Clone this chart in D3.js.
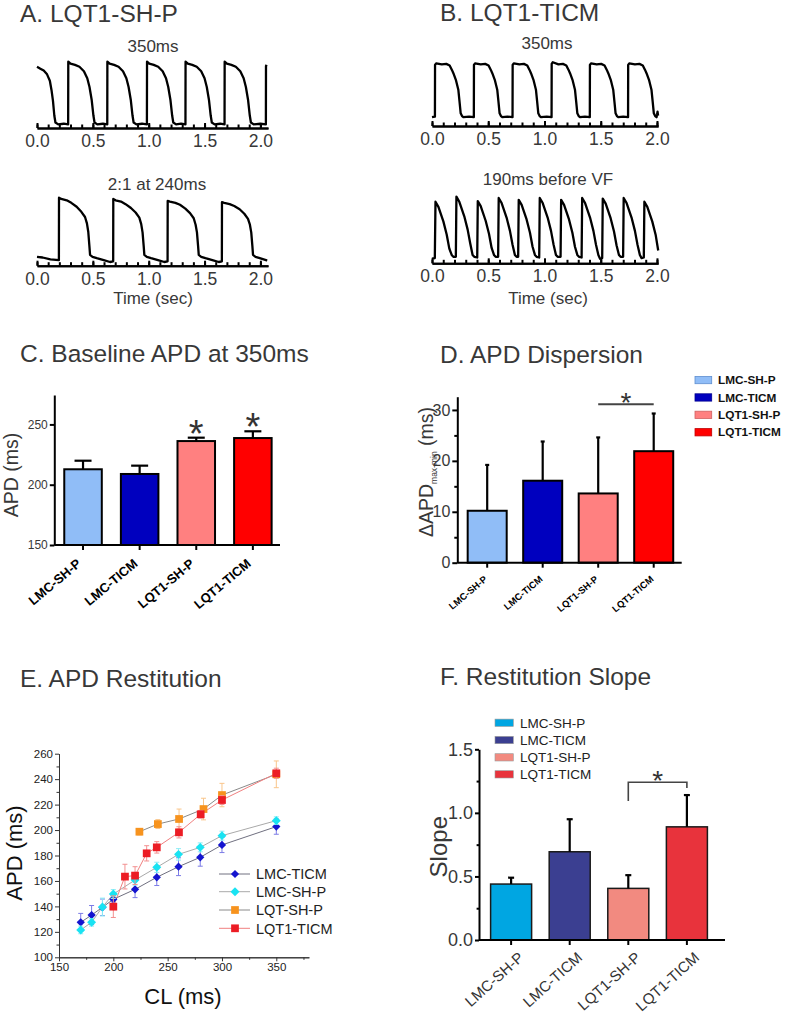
<!DOCTYPE html>
<html><head><meta charset="utf-8">
<script src="https://cdn.jsdelivr.net/npm/d3@7"></script>
<style>
body{margin:0;background:#fff;}
svg{display:block;font-family:"Liberation Sans",Arial,Helvetica,sans-serif;}
</style></head><body>
<svg id="fig" width="786" height="1020"></svg>
<script>
// ---------------- DATA ----------------
// Optical action potential traces: [time (s), normalised amplitude]
const traceA1 = [[0,0.92],[0.03,0.89],[0.06,0.86],[0.09,0.80],[0.115,0.70],[0.13,0.55],[0.143,0.38],[0.155,0.15],[0.165,0.04],[0.19,0.01],[0.24,0.02],[0.279,0.01],
[0.28,1.0],[0.30,0.97],[0.34,0.95],[0.38,0.92],[0.42,0.85],[0.45,0.74],[0.47,0.60],[0.49,0.39],[0.505,0.15],[0.515,0.04],[0.54,0.01],[0.59,0.02],[0.629,0.01],
[0.63,1.0],[0.65,0.97],[0.69,0.95],[0.73,0.92],[0.77,0.85],[0.80,0.74],[0.82,0.60],[0.84,0.39],[0.855,0.15],[0.865,0.04],[0.89,0.01],[0.94,0.02],[0.984,0.01],
[0.985,1.0],[1.005,0.97],[1.045,0.95],[1.085,0.92],[1.125,0.85],[1.155,0.74],[1.175,0.60],[1.195,0.39],[1.21,0.15],[1.22,0.04],[1.245,0.01],[1.29,0.02],[1.329,0.01],
[1.33,1.0],[1.35,0.97],[1.39,0.95],[1.43,0.92],[1.47,0.85],[1.50,0.74],[1.52,0.60],[1.54,0.39],[1.555,0.15],[1.565,0.04],[1.59,0.01],[1.64,0.02],[1.679,0.01],
[1.68,1.0],[1.70,0.97],[1.74,0.95],[1.78,0.92],[1.82,0.85],[1.85,0.74],[1.87,0.60],[1.89,0.39],[1.905,0.15],[1.915,0.04],[1.94,0.01],[2.0,0.02],[2.049,0.01],
[2.05,0.93],[2.056,0.95]];

const traceA2 = [[0,0.08],[0.05,0.07],[0.12,0.04],[0.196,0.03],
[0.197,1.0],[0.217,0.98],[0.266,0.96],[0.307,0.92],[0.355,0.86],[0.397,0.78],[0.43,0.70],[0.447,0.60],[0.459,0.47],[0.469,0.25],[0.475,0.11],[0.497,0.08],[0.535,0.06],[0.597,0.03],[0.654,0.0],[0.682,0.01],
[0.683,0.98],[0.703,0.96],[0.752,0.94],[0.793,0.90],[0.841,0.84],[0.883,0.77],[0.916,0.69],[0.933,0.59],[0.945,0.46],[0.955,0.25],[0.961,0.11],[0.983,0.08],[1.021,0.06],[1.083,0.03],[1.14,0.0],[1.169,0.01],
[1.17,0.95],[1.19,0.94],[1.239,0.92],[1.28,0.89],[1.328,0.83],[1.37,0.76],[1.403,0.68],[1.42,0.58],[1.432,0.46],[1.442,0.25],[1.448,0.11],[1.47,0.08],[1.508,0.06],[1.57,0.03],[1.627,0.0],[1.655,0.01],
[1.656,0.93],[1.676,0.92],[1.725,0.90],[1.766,0.87],[1.814,0.82],[1.856,0.75],[1.889,0.67],[1.906,0.58],[1.918,0.46],[1.928,0.25],[1.934,0.11],[1.956,0.08],[1.994,0.06],[2.05,0.03],[2.06,0.02]];

const traceB1 = [[0,0.02],[0.026,0.03],
[0.027,0.97],[0.037,1.0],[0.087,0.98],[0.127,0.99],[0.157,0.96],[0.177,0.88],[0.19,0.82],[0.212,0.70],[0.234,0.52],[0.245,0.30],[0.255,0.09],[0.267,0.04],[0.279,0.02],[0.33,0.03],[0.372,0.02],
[0.373,0.97],[0.383,1.0],[0.433,0.98],[0.473,0.99],[0.503,0.96],[0.523,0.88],[0.536,0.82],[0.558,0.70],[0.58,0.52],[0.591,0.30],[0.601,0.09],[0.613,0.04],[0.625,0.02],[0.67,0.03],[0.716,0.02],
[0.717,0.97],[0.727,1.0],[0.777,0.98],[0.817,0.99],[0.847,0.96],[0.867,0.88],[0.88,0.82],[0.902,0.70],[0.924,0.52],[0.935,0.30],[0.945,0.09],[0.957,0.04],[0.969,0.02],[1.02,0.03],[1.063,0.02],
[1.064,0.99],[1.074,1.02],[1.124,0.98],[1.164,0.99],[1.194,0.96],[1.214,0.88],[1.227,0.82],[1.249,0.70],[1.271,0.52],[1.282,0.30],[1.292,0.09],[1.304,0.04],[1.316,0.02],[1.36,0.03],[1.403,0.02],
[1.404,0.97],[1.414,1.0],[1.464,0.98],[1.504,0.99],[1.534,0.96],[1.554,0.88],[1.567,0.82],[1.589,0.70],[1.611,0.52],[1.622,0.30],[1.632,0.09],[1.644,0.04],[1.656,0.02],[1.70,0.03],[1.743,0.02],
[1.744,0.97],[1.754,1.0],[1.804,0.98],[1.844,0.99],[1.874,0.96],[1.894,0.88],[1.907,0.82],[1.929,0.70],[1.951,0.52],[1.962,0.30],[1.972,0.09],[1.984,0.04],[1.996,0.02],[2.0,0.06],[2.005,0.12],[2.01,0.05]];

const traceB2 = [[0,0.02],[0.025,0.03],[0.031,0.92],[0.057,0.84],[0.101,0.61],[0.131,0.40],[0.154,0.18],[0.175,0.08],[0.19,0.05],[0.212,0.05],
[0.217,1.0],[0.243,0.92],[0.287,0.69],[0.317,0.48],[0.340,0.26],[0.361,0.08],[0.376,0.05],[0.402,0.04],
[0.407,0.93],[0.433,0.85],[0.477,0.62],[0.507,0.41],[0.530,0.19],[0.551,0.08],[0.566,0.05],[0.588,0.05],
[0.593,0.98],[0.619,0.90],[0.663,0.67],[0.693,0.46],[0.716,0.24],[0.737,0.08],[0.752,0.05],[0.766,0.05],
[0.771,0.95],[0.797,0.87],[0.841,0.64],[0.871,0.43],[0.894,0.21],[0.915,0.08],[0.93,0.05],[0.953,0.04],
[0.958,0.98],[0.984,0.90],[1.028,0.67],[1.058,0.46],[1.081,0.24],[1.102,0.08],[1.117,0.05],[1.143,0.05],
[1.148,0.95],[1.174,0.87],[1.218,0.64],[1.248,0.43],[1.271,0.21],[1.292,0.08],[1.307,0.05],[1.33,0.04],
[1.335,0.98],[1.361,0.90],[1.405,0.67],[1.435,0.46],[1.458,0.24],[1.479,0.08],[1.494,0.02],[1.513,0.03],
[1.518,0.97],[1.544,0.89],[1.588,0.66],[1.618,0.45],[1.641,0.23],[1.662,0.08],[1.677,0.05],[1.699,0.05],
[1.704,0.98],[1.73,0.90],[1.774,0.67],[1.804,0.46],[1.827,0.24],[1.848,0.08],[1.863,0.03],[1.883,0.04],
[1.888,0.92],[1.914,0.84],[1.958,0.61],[1.988,0.40],[2.011,0.15]];

const traceMajorTicks = [0, 0.5, 1.0, 1.5, 2.0];
const traceMinorTicks = [0,0.1,0.2,0.3,0.4,0.5,0.6,0.7,0.8,0.9,1.0,1.1,1.2,1.3,1.4,1.5,1.6,1.7,1.8,1.9,2.0];

// Bar charts
const groups = ["LMC-SH-P","LMC-TICM","LQT1-SH-P","LQT1-TICM"];
const apdBaseline = [212.8, 208.9, 236.2, 238.7];
const apdBaselineErr = [7.1, 6.9, 2.8, 5.6];
const apdTicks = [150, 200, 250];

const apdDispersion = [10.2, 16.1, 13.6, 21.9];
const apdDispersionErr = [9.0, 7.7, 11.0, 7.4];
const dispMajorTicks = [0, 10, 20, 30];
const dispMinorTicks = [5, 15, 25];

const slope = [0.44, 0.694, 0.406, 0.89];
const slopeErr = [0.05, 0.256, 0.104, 0.25];
const slopeMajorTicks = [0, 0.5, 1.0, 1.5];
const slopeMinorTicks = [0.25, 0.75, 1.25];

// Restitution curves
const clLMC = [170,180,190,200,220,240,260,280,300,350];
const apdLMC_TICM = [127.5,133.2,139.3,145.6,153.4,162.9,171.2,178.6,188.3,202.7];
const errLMC_TICM = [7,7.5,6.5,3,6.5,6.5,7,7,6,6];
const apdLMC_SHP = [121.5,127.5,139.5,149.7,160.7,170.7,180.9,186.4,195.6,207.4];
const errLMC_SHP = [3,3,7,3.5,4,4,4.5,3.5,3.5,3];
const clLQT_SHP = [224,241,260.5,283,300,350];
const apdLQT_SHP = [198.7,204.7,208.7,216.5,227.5,243.8];
const errLQT_SHP = [2.5,3.5,7.8,8.5,9.2,10.5];
const clLQT1_TICM = [200,210.7,220,230.7,240,260.4,280.4,300,350];
const apdLQT1_TICM = [139.8,163.4,164.2,181.7,186.4,198.2,212.4,223.6,244.6];
const errLQT1_TICM = [8.5,9.7,7,6,4.5,4.4,3,3.5,4];
const clMajorTicks = [150,200,250,300,350];
const clMinorTicks = [175,225,275,325,375];
const restMajorTicks = [100,120,140,160,180,200,220,240,260];
const restMinorTicks = [110,130,150,170,190,210,230,250];

// ---------------- DRAWING ----------------
const svg = d3.select("#fig");
const TXT = "#383838";

const titles = [
  {t:"A. LQT1-SH-P", x:20, y:22},
  {t:"B. LQT1-TICM", x:440, y:21},
  {t:"C. Baseline APD at 350ms", x:20, y:362},
  {t:"D. APD Dispersion", x:440, y:363},
  {t:"E. APD Restitution", x:20, y:687},
  {t:"F. Restitution Slope", x:440, y:685}];
svg.selectAll("text.title").data(titles).enter().append("text")
  .attr("class","title").attr("x",d=>d.x).attr("y",d=>d.y)
  .attr("font-size",24.5).attr("fill",TXT).text(d=>d.t);

function styleAxis(g, w){
  g.select(".domain").attr("stroke","#000").attr("stroke-width",w);
  g.selectAll(".tick line").attr("stroke","#000").attr("stroke-width",w);
}

function tracePanel(data, cfg){
  const x = d3.scaleLinear().domain(cfg.tdom).range(cfg.xr);
  const y = d3.scaleLinear().domain([0,1]).range([cfg.yBase, cfg.yTop]);
  const g = svg.append("g");
  const minor = g.append("g").attr("transform",`translate(0,${cfg.axisY})`)
    .call(d3.axisBottom(x).tickValues(traceMinorTicks).tickSize(-3.5).tickSizeOuter(0).tickFormat(""));
  styleAxis(minor, 2);
  const major = g.append("g").attr("transform",`translate(0,${cfg.axisY})`)
    .call(d3.axisBottom(x).tickValues(traceMajorTicks).tickSize(-5).tickSizeOuter(0).tickPadding(6.5).tickFormat(d3.format(".1f")));
  styleAxis(major, 2);
  major.selectAll("text").attr("font-size",17.5).attr("fill",TXT).attr("font-family","Liberation Sans, Arial, sans-serif");
  g.append("path").datum(data)
    .attr("d", d3.line().x(d=>x(d[0])).y(d=>y(d[1])))
    .attr("fill","none").attr("stroke","#000").attr("stroke-width",2.3).attr("stroke-linejoin","round");
  g.append("text").attr("x",cfg.labelX).attr("y",cfg.labelY).attr("text-anchor","middle")
    .attr("font-size",17).attr("fill",TXT).text(cfg.label);
}
tracePanel(traceA1,{tdom:[0,2.068],xr:[37,268],axisY:128,yTop:61.7,yBase:125,label:"350ms",labelX:153,labelY:52});
tracePanel(traceA2,{tdom:[0,2.068],xr:[37,268],axisY:265.7,yTop:197.7,yBase:262,label:"2:1 at 240ms",labelX:157,labelY:190});
tracePanel(traceB1,{tdom:[0,2.01],xr:[432,658.1],axisY:126,yTop:63.3,yBase:118.3,label:"350ms",labelX:547,labelY:48.5});
tracePanel(traceB2,{tdom:[0,2.01],xr:[432,658.1],axisY:263.3,yTop:196.7,yBase:260,label:"190ms before VF",labelX:548,labelY:184.5});
svg.append("text").attr("x",153).attr("y",304).attr("text-anchor","middle").attr("font-size",17).attr("fill",TXT).text("Time (sec)");
svg.append("text").attr("x",548).attr("y",304).attr("text-anchor","middle").attr("font-size",17).attr("fill",TXT).text("Time (sec)");

// ---- generic bar panel ----
function barPanel(cfg){
  const g = svg.append("g");
  const x = d3.scaleBand().domain(groups).range(cfg.bandRange).paddingInner(cfg.pi).paddingOuter(cfg.po);
  const y = d3.scaleLinear().domain(cfg.ydom).range([cfg.y0, cfg.yTopPx]);
  const ya = g.append("g").attr("transform",`translate(${cfg.x0},0)`)
    .call(d3.axisLeft(y).tickValues(cfg.yticks).tickSize(cfg.tickLen).tickSizeOuter(0).tickPadding(cfg.tickPad).tickFormat(cfg.fmt));
  styleAxis(ya, cfg.axisW);
  ya.selectAll("text").attr("font-size",cfg.tickFont).attr("fill",TXT).attr("font-family","Liberation Sans, Arial, sans-serif");
  if (cfg.yminor){
    const ym = g.append("g").attr("transform",`translate(${cfg.x0},0)`)
      .call(d3.axisLeft(y).tickValues(cfg.yminor).tickSize(cfg.tickLen*0.6).tickSizeOuter(0).tickFormat(""));
    styleAxis(ym, cfg.axisW);
    ym.select(".domain").remove();
  }
  g.selectAll("rect.bar").data(groups).enter().append("rect")
    .attr("x",d=>x(d)).attr("y",(d,i)=>y(cfg.values[i]))
    .attr("width",x.bandwidth()).attr("height",(d,i)=>cfg.y0-y(cfg.values[i]))
    .attr("fill",(d,i)=>cfg.colors[i]).attr("stroke",cfg.barStroke).attr("stroke-width",cfg.barW);
  groups.forEach((d,i)=>{
    const cx = x(d)+x.bandwidth()/2;
    g.append("line").attr("x1",cx).attr("x2",cx).attr("y1",y(cfg.values[i])).attr("y2",y(cfg.values[i]+cfg.errs[i]))
      .attr("stroke","#000").attr("stroke-width",cfg.errW);
    g.append("line").attr("x1",cx-cfg.cap).attr("x2",cx+cfg.cap).attr("y1",y(cfg.values[i]+cfg.errs[i])).attr("y2",y(cfg.values[i]+cfg.errs[i]))
      .attr("stroke","#000").attr("stroke-width",cfg.errW);
  });
  g.append("line").attr("x1",cfg.x0).attr("x2",cfg.xEnd).attr("y1",cfg.y0).attr("y2",cfg.y0).attr("stroke","#000").attr("stroke-width",cfg.axisW);
  groups.forEach(d=>{
    const cx = x(d)+x.bandwidth()/2;
    g.append("line").attr("x1",cx).attr("x2",cx).attr("y1",cfg.y0).attr("y2",cfg.y0+cfg.xTickLen).attr("stroke","#000").attr("stroke-width",cfg.axisW);
    g.append("text").attr("transform",`translate(${cx+cfg.lblDx},${cfg.y0+cfg.lblDy}) rotate(${cfg.lblRot})`)
      .attr("text-anchor","end").attr("dy","0.35em").attr("font-size",cfg.lblFont).attr("font-weight",cfg.lblWeight)
      .attr("fill",cfg.lblColor).text(d);
  });
  return {x,y,g};
}

// ---- Panel C ----
const pC = barPanel({bandRange:[54.3,281.6],pi:0.337,po:0.176,ydom:[150,274.4],y0:545,yTopPx:395,x0:54.3,xEnd:280,
  yticks:apdTicks,tickLen:4.5,tickPad:2,fmt:d3.format("d"),tickFont:12,axisW:2,values:apdBaseline,errs:apdBaselineErr,
  colors:["#90bdf7","#0000bf","#ff8080","#ff0000"],barStroke:"#000",barW:2,errW:2.2,cap:8.5,xTickLen:5,
  lblDx:-4,lblDy:16.5,lblRot:-40,lblFont:13,lblWeight:"bold",lblColor:"#000"});
[2,3].forEach(i=>{
  const cx = pC.x(groups[i])+pC.x.bandwidth()/2;
  const cy = pC.y(apdBaseline[i]+apdBaselineErr[i]) - 12;
  pC.g.append("text").attr("x",cx).attr("y",cy+21).attr("text-anchor","middle")
    .attr("font-size",38).attr("fill","#333").text("*");
});
svg.append("text").attr("transform","translate(18,475) rotate(-90)").attr("text-anchor","middle")
  .attr("font-size",19.5).attr("fill",TXT).text("APD (ms)");

// ---- Panel D ----
const pD = barPanel({bandRange:[457.3,683.6],pi:0.297,po:0.187,ydom:[0,32.6],y0:562.7,yTopPx:396.7,x0:457.3,xEnd:681.7,
  yticks:dispMajorTicks,yminor:dispMinorTicks,tickLen:5,tickPad:2,fmt:d3.format("d"),tickFont:16,axisW:2,values:apdDispersion,errs:apdDispersionErr,
  colors:["#90bdf7","#0000bf","#ff8080","#ff0000"],barStroke:"#000",barW:2,errW:2.2,cap:2,xTickLen:5,
  lblDx:-1.5,lblDy:15,lblRot:-40,lblFont:9.5,lblWeight:"bold",lblColor:"#000"});
{
  const c3 = pD.x(groups[2])+pD.x.bandwidth()/2, c4 = pD.x(groups[3])+pD.x.bandwidth()/2;
  pD.g.append("line").attr("x1",c3).attr("x2",c4).attr("y1",404.3).attr("y2",404.3).attr("stroke","#444").attr("stroke-width",2);
  pD.g.append("text").attr("x",(c3+c4)/2).attr("y",411.5).attr("text-anchor","middle").attr("font-size",28).attr("fill","#333").text("*");
}
{
  const t = svg.append("text").attr("transform","translate(433,472) rotate(-90)").attr("text-anchor","middle")
    .attr("font-size",19.5).attr("fill",TXT);
  t.append("tspan").text("\u0394APD");
  t.append("tspan").attr("font-size",8.5).attr("dy",4).text("max-min");
  t.append("tspan").attr("dy",-4).text(" (ms)");
}
const legD = svg.append("g");
groups.forEach((d,i)=>{
  const yy = 380 + i*17.4;
  legD.append("rect").attr("x",695).attr("y",yy-3.6).attr("width",16.7).attr("height",7.3)
    .attr("fill",["#90bdf7","#0000bf","#ff8080","#ff0000"][i]).attr("stroke",["#5f8fd0","#00008f","#d06060","#c00000"][i]).attr("stroke-width",0.8);
  legD.append("text").attr("x",718).attr("y",yy).attr("dy","0.36em").attr("font-size",11.8).attr("font-weight","bold").attr("fill","#111").text(d);
});

// ---- Panel E ----
{
  const g = svg.append("g");
  const x = d3.scaleLinear().domain([150,380]).range([59,308.9]);
  const y = d3.scaleLinear().domain([100,260]).range([957.3,753.7]);
  const fmt = d3.format("d");
  const xa = g.append("g").attr("transform","translate(0,957.3)")
    .call(d3.axisBottom(x).tickValues(clMajorTicks).tickSize(4).tickSizeOuter(0).tickPadding(2).tickFormat(fmt));
  const xm = g.append("g").attr("transform","translate(0,957.3)")
    .call(d3.axisBottom(x).tickValues(clMinorTicks).tickSize(2.5).tickSizeOuter(0).tickFormat(""));
  const ya = g.append("g").attr("transform","translate(59,0)")
    .call(d3.axisLeft(y).tickValues(restMajorTicks).tickSize(4).tickSizeOuter(0).tickPadding(2).tickFormat(fmt));
  const ym = g.append("g").attr("transform","translate(59,0)")
    .call(d3.axisLeft(y).tickValues(restMinorTicks).tickSize(2.5).tickSizeOuter(0).tickFormat(""));
  [xa,xm,ya,ym].forEach(a=>{a.select(".domain").attr("stroke","#333"); a.selectAll(".tick line").attr("stroke","#333");
    a.selectAll("text").attr("font-size",11.5).attr("fill","#222").attr("font-family","Liberation Sans, Arial, sans-serif");});
  const series = [
    {cl:clLMC, v:apdLMC_TICM, e:errLMC_TICM, col:"#1414cf", ecol:"#7b7be6", lcol:"#707080", shape:"diamond", sz:34},
    {cl:clLMC, v:apdLMC_SHP, e:errLMC_SHP, col:"#19e3f2", ecol:"#8cecf5", lcol:"#a9a9a9", shape:"diamond", sz:40},
    {cl:clLQT_SHP, v:apdLQT_SHP, e:errLQT_SHP, col:"#f7931e", ecol:"#f9c58a", lcol:"#8a8a8a", shape:"square", sz:60},
    {cl:clLQT1_TICM, v:apdLQT1_TICM, e:errLQT1_TICM, col:"#ec1c24", ecol:"#f39090", lcol:"#f08080", shape:"square", sz:60}];
  const line = d3.line().x(d=>x(d[0])).y(d=>y(d[1]));
  series.forEach(s=>{
    const pts = s.cl.map((c,i)=>[c,s.v[i],s.e[i]]);
    g.append("path").datum(pts).attr("d",line).attr("fill","none").attr("stroke",s.lcol).attr("stroke-width",1);
  });
  series.forEach(s=>{
    const pts = s.cl.map((c,i)=>[c,s.v[i],s.e[i]]);
    pts.forEach(p=>{
      g.append("line").attr("x1",x(p[0])).attr("x2",x(p[0])).attr("y1",y(p[1]-p[2])).attr("y2",y(p[1]+p[2])).attr("stroke",s.ecol).attr("stroke-width",1);
      [p[1]-p[2],p[1]+p[2]].forEach(v=>g.append("line").attr("x1",x(p[0])-2.5).attr("x2",x(p[0])+2.5).attr("y1",y(v)).attr("y2",y(v)).attr("stroke",s.ecol).attr("stroke-width",1));
    });
    pts.forEach(p=>{
      g.append("path").attr("d",d3.symbol(d3.symbolSquare, s.sz)())
        .attr("transform",`translate(${x(p[0])},${y(p[1])})${s.shape==="diamond"?" rotate(45)":""}`)
        .attr("fill",s.col);
    });
  });
  const legNames = ["LMC-TICM","LMC-SH-P","LQT-SH-P","LQT1-TICM"];
  legNames.forEach((n,i)=>{
    const yy = [874,891.7,910,928.3][i];
    const s = series[i];
    g.append("line").attr("x1",219).attr("x2",250).attr("y1",yy).attr("y2",yy).attr("stroke",s.lcol).attr("stroke-width",1);
    g.append("path").attr("d",d3.symbol(d3.symbolSquare, s.sz)())
      .attr("transform",`translate(235,${yy})${s.shape==="diamond"?" rotate(45)":""}`).attr("fill",s.col);
    g.append("text").attr("x",256).attr("y",yy).attr("dy","0.36em").attr("font-size",14.5).attr("fill","#222").text(n);
  });
  svg.append("text").attr("transform","translate(22,853) rotate(-90)").attr("text-anchor","middle").attr("font-size",22).attr("fill","#111").text("APD (ms)");
  svg.append("text").attr("x",183).attr("y",1004).attr("text-anchor","middle").attr("font-size",22).attr("fill","#111").text("CL (ms)");
}

// ---- Panel F ----
const fColors = ["#00a6e2","#3b3f91","#f28a80","#e8333c"];
const pF = barPanel({bandRange:[479,719],pi:0.3,po:0.198,ydom:[0,1.5],y0:940,yTopPx:749.3,x0:479,xEnd:725,
  yticks:slopeMajorTicks,yminor:slopeMinorTicks,tickLen:4,tickPad:2,fmt:d3.format(".1f"),tickFont:18,axisW:2,values:slope,errs:slopeErr,
  colors:fColors,barStroke:"#1a1a1a",barW:1.5,errW:2.2,cap:3,xTickLen:5,
  lblDx:10,lblDy:15,lblRot:-42,lblFont:15,lblWeight:"normal",lblColor:"#333"});
{
  const c3 = pF.x(groups[2])+pF.x.bandwidth()/2, c4 = pF.x(groups[3])+pF.x.bandwidth()/2;
  pF.g.append("path").attr("d",`M${c3},801 V782.3 H${c4} V788`).attr("fill","none").attr("stroke","#444").attr("stroke-width",1.6);
  pF.g.append("text").attr("x",(c3+c4)/2).attr("y",790).attr("text-anchor","middle").attr("font-size",28).attr("fill","#333").text("*");
}
svg.append("text").attr("transform","translate(447,846.7) rotate(-90)").attr("text-anchor","middle").attr("font-size",24).attr("fill",TXT).text("Slope");
groups.forEach((d,i)=>{
  const yy = [722.7,740,757.3,774.3][i];
  svg.append("rect").attr("x",495).attr("y",yy-3.6).attr("width",18.3).attr("height",7.3).attr("fill",fColors[i]).attr("stroke","#999").attr("stroke-width",0.6);
  svg.append("text").attr("x",520).attr("y",yy).attr("dy","0.36em").attr("font-size",13.5).attr("fill","#222").text(d);
});
</script></body></html>
